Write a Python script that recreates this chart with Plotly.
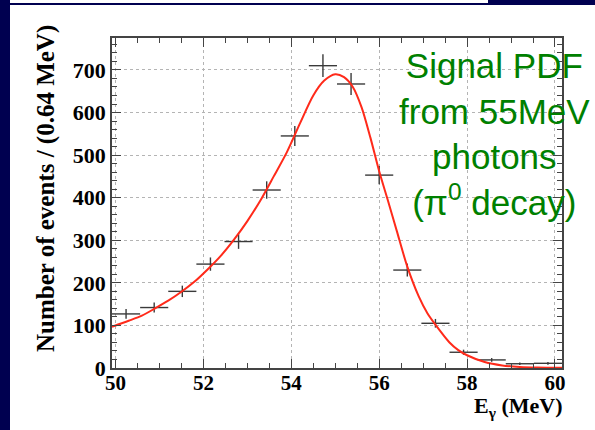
import numpy as np
import plotly.graph_objects as go

# ---- data ----
BIN_WIDTH = 0.64
bin_centers = [50.24, 50.88, 51.52, 52.16, 52.80, 53.44, 54.08, 54.72,
               55.36, 56.00, 56.64, 57.28, 57.92, 58.56, 59.20, 59.84]
counts = [127, 142, 180, 244, 297, 418, 545, 710,
          667, 453, 230, 105, 37, 19, 10, 11]

curve_x = [49.92, 50.3, 50.6, 50.9, 51.2, 51.5, 51.8, 52.1, 52.4, 52.7,
           53.0, 53.3, 53.6, 53.9, 54.2, 54.5, 54.75, 55.0, 55.2, 55.4,
           55.6, 55.8, 56.0, 56.2, 56.4, 56.64, 56.9, 57.1, 57.3, 57.6,
           57.8, 58.0, 58.4, 58.8, 59.2, 59.6, 60.16]
curve_y = [97, 111, 123, 140, 158, 179, 203, 232, 264, 302,
           345, 394, 450, 507, 575, 640, 675, 690, 683, 660,
           612, 541, 462, 393, 322, 238, 168, 128, 99, 60,
           42, 30, 14, 6, 2.5, 1, 0.3]

x_ticks = [50, 52, 54, 56, 58, 60]
y_ticks = [0, 100, 200, 300, 400, 500, 600, 700]
x_range = [49.92, 60.16]
y_range = [0, 775]

errors = list(np.sqrt(counts))

# ---- figure ----
W, H = 595, 430
L, R, T, B = 112, 33, 38, 62
pw, ph = W - L - R, H - T - B

def px(X):
    return (X - L) / pw

def py(Y):
    return (H - B - Y) / ph

fig = go.Figure()

fig.add_trace(go.Scatter(
    x=bin_centers, y=counts, mode="markers",
    marker=dict(size=1, color="#3a3a3a", opacity=0),
    error_x=dict(type="constant", value=BIN_WIDTH / 2, width=0,
                 color="#3a3a3a", thickness=1.4),
    error_y=dict(type="data", array=errors, width=0,
                 color="#3a3a3a", thickness=1.4),
    showlegend=False, hoverinfo="skip"))

fig.add_trace(go.Scatter(
    x=curve_x, y=curve_y, mode="lines",
    line=dict(color="#ff2a1a", width=2, shape="spline", smoothing=0.8),
    showlegend=False, hoverinfo="skip"))

tickfont = dict(family="Liberation Serif", size=22, color="black", weight="bold")
xtickfont = dict(family="Liberation Serif", size=21, color="black", weight="bold")
axcol = "#444444"

fig.update_xaxes(
    range=x_range, tickvals=x_ticks, showline=True, linecolor=axcol, linewidth=1.5,
    mirror="allticks", ticks="inside", ticklen=9, tickwidth=1.2, tickcolor=axcol,
    minor=dict(dtick=0.5, tick0=50, ticks="inside", ticklen=5, tickcolor=axcol, showgrid=False),
    showgrid=True, gridcolor="#b4b4b4", griddash="dot", gridwidth=1,
    zeroline=False, tickfont=xtickfont, ticklabelstandoff=-5)
fig.update_yaxes(
    range=y_range, tickvals=y_ticks, showline=True, linecolor=axcol, linewidth=1.5,
    mirror="allticks", ticks="inside", ticklen=9, tickwidth=1.2, tickcolor=axcol,
    minor=dict(dtick=20, tick0=0, ticks="inside", ticklen=5, tickcolor=axcol, showgrid=False),
    showgrid=True, gridcolor="#b4b4b4", griddash="dot", gridwidth=1,
    zeroline=False, tickfont=tickfont)

navy = "#000050"
shapes = [
    dict(type="rect", xref="paper", yref="paper", x0=px(0), x1=px(10), y0=py(430), y1=py(0),
         fillcolor=navy, line_width=0, layer="above"),
    dict(type="rect", xref="paper", yref="paper", x0=px(0), x1=px(595), y0=py(5), y1=py(3),
         fillcolor=navy, line_width=0, layer="above"),
    dict(type="rect", xref="paper", yref="paper", x0=px(488), x1=px(595), y0=py(5), y1=py(0),
         fillcolor=navy, line_width=0, layer="above"),
]

annotations = [
    dict(text="Number of events / (0.64 MeV)", xref="paper", yref="paper",
         x=px(46), y=py(189), textangle=-90, showarrow=False,
         xanchor="center", yanchor="middle",
         font=dict(family="Liberation Serif", size=25, color="black", weight="bold")),
    dict(text="E<sub>γ</sub> (MeV)", xref="paper", yref="paper",
         x=px(564), y=py(407), showarrow=False, xanchor="right", yanchor="middle",
         font=dict(family="Liberation Serif", size=22, color="black", weight="bold")),
    dict(text="Signal PDF<br>from 55MeV<br>photons<br>(π<sup>0</sup> decay)",
         xref="paper", yref="paper", x=px(494), y=py(134), showarrow=False,
         xanchor="center", yanchor="middle", align="center",
         font=dict(family="Liberation Sans", size=35, color="#008000")),
]

fig.update_layout(
    width=W, height=H, margin=dict(l=L, r=R, t=T, b=B),
    paper_bgcolor="white", plot_bgcolor="white",
    shapes=shapes, annotations=annotations)

fig.write_html("out.html")
